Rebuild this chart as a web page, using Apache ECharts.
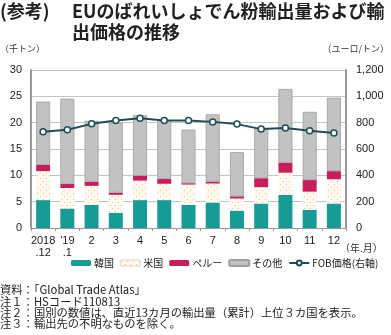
<!DOCTYPE html>
<html><head><meta charset="utf-8">
<script src="https://cdn.jsdelivr.net/npm/echarts@6/dist/echarts.min.js"></script>
<style>html,body{margin:0;padding:0;background:#fff;}#c{width:391px;height:335px;}</style>
</head><body><div id="c"></div>
<script>
var categories = ['2018\n.12', "'19\n.1", '2', '3', '4', '5', '6', '7', '8', '9', '10', '11', '12'];
var korea = [5.3, 3.7, 4.4, 2.9, 5.3, 5.3, 4.4, 4.85, 3.3, 4.65, 6.3, 3.45, 4.65];
var usa   = [5.5, 3.9, 3.6, 3.4, 3.7, 3.1, 3.85, 3.6, 2.3, 3.1, 4.2, 3.45, 4.6];
var peru  = [1.2, 0.75, 0.8, 0.4, 0.9, 0.9, 0.25, 0.35, 0.4, 1.7, 1.9, 2.2, 1.55];
var other = [12.0, 16.2, 11.55, 13.3, 11.5, 11.1, 10.2, 12.8, 8.4, 9.4, 14.0, 12.95, 13.95];
var fob   = [731, 746, 791, 817, 834, 817, 817, 806, 789, 751, 759, 738, 721];
var leftTicks = [0, 5, 10, 15, 20, 25, 30];
var rightTicks = [0, 200, 400, 600, 800, 1000, 1200];

var FONT = '"Liberation Sans", "Noto Sans CJK JP", sans-serif';
var JP = '"Noto Sans CJK JP", sans-serif';

// dotted pattern for USA
var pc = document.createElement('canvas');
pc.width = 6; pc.height = 6;
var g = pc.getContext('2d');
g.fillStyle = '#fff9ef'; g.fillRect(0,0,6,6);
g.fillStyle = '#e8c08a';
g.fillRect(1,1,1,1); g.fillRect(4,4,1,1);
var usPattern = {image: pc, repeat: 'repeat'};

var chart = echarts.init(document.getElementById('c'), null, {renderer: 'canvas'});
var barW = 14;
chart.setOption({
  animation: false,
  textStyle: {fontFamily: FONT},
  grid: {left: 31, right: 45, top: 70, bottom: 107, containLabel: false},
  legend: {
    bottom: 62, left: 66, itemWidth: 20, itemHeight: 6, itemGap: 6,
    textStyle: {fontSize: 10, color: '#222', fontFamily: JP, padding: [0,0,0,-2]},
    data: [
      {name: '韓国'}, {name: '米国', itemStyle: {borderColor: '#aaa', borderWidth: 0.5}},
      {name: 'ペルー'}, {name: 'その他'}, {name: 'FOB価格(右軸)'}
    ]
  },
  xAxis: {
    type: 'category', data: categories,
    axisLine: {lineStyle: {color: '#999', width: 1}},
    axisTick: {show: true, length: 3, lineStyle: {color: '#999'}},
    axisLabel: {interval: 0, fontSize: 11, color: '#222', lineHeight: 12, margin: 7, fontFamily: FONT}
  },
  yAxis: [
    {type: 'value', min: 0, max: 30, interval: 5,
     axisLine: {show: true, lineStyle: {color: '#999', width: 2}},
     axisTick: {show: false},
     splitLine: {lineStyle: {color: '#c4c4c4', width: 1}},
     axisLabel: {fontSize: 11, color: '#222', margin: 9,
       formatter: function(v){ return leftTicks.indexOf(v) >= 0 ? String(v) : ''; }}},
    {type: 'value', min: 0, max: 1200, interval: 200,
     axisLine: {show: true, lineStyle: {color: '#999', width: 2}},
     axisTick: {show: false},
     splitLine: {show: false},
     axisLabel: {fontSize: 11, color: '#222', margin: 10,
       formatter: function(v){ return rightTicks.indexOf(v) >= 0 ? v.toLocaleString('en-US') : ''; }}}
  ],
  series: [
    {name: '韓国', type: 'bar', stack: 's', data: korea, barWidth: barW, itemStyle: {color: '#179b97'}},
    {name: '米国', type: 'bar', stack: 's', data: usa, barWidth: barW, itemStyle: {color: usPattern}},
    {name: 'ペルー', type: 'bar', stack: 's', data: peru, barWidth: barW, itemStyle: {color: '#c81c5b'}},
    {name: 'その他', type: 'bar', stack: 's', data: other, barWidth: barW, itemStyle: {color: '#c2c2c2', borderColor: '#9e9e9e', borderWidth: 0.8}},
    {name: 'FOB価格(右軸)', type: 'line', yAxisIndex: 1, data: fob, symbol: 'circle', symbolSize: 6,
     lineStyle: {color: '#1f4d57', width: 2}, itemStyle: {color: '#fff', borderColor: '#1f4d57', borderWidth: 1.5}, z: 5}
  ],
  graphic: [
    {type: 'text', left: 0, top: 2, style: {text: '(参考)', font: 'bold 18px ' + JP, fill: '#222'}},
    {type: 'text', left: 72, top: 2, style: {text: 'EUのばれいしょでん粉輸出量および輸', font: 'bold 18px ' + JP, fill: '#222'}},
    {type: 'text', left: 72, top: 23, style: {text: '出価格の推移', font: 'bold 18px ' + JP, fill: '#222'}},
    {type: 'text', left: 0, top: 44, style: {text: '（千トン）', font: '9px ' + JP, fill: '#333'}},
    {type: 'text', right: 2, top: 44, style: {text: '（ユーロ/トン）', font: '9px ' + JP, fill: '#333'}},
    {type: 'text', left: 340, top: 243, style: {text: '（年.月）', font: '10px ' + JP, fill: '#333'}},
    {type: 'text', left: 0, top: 284, style: {text: '資料：「Global Trade Atlas」', font: '11.3px ' + JP, fill: '#222'}},
    {type: 'text', left: 0, top: 296, style: {text: '注１：HSコード110813', font: '11.3px ' + JP, fill: '#222'}},
    {type: 'text', left: 0, top: 307, style: {text: '注２：国別の数値は、直近13カ月の輸出量（累計）上位３カ国を表示。', font: '11.3px ' + JP, fill: '#222'}},
    {type: 'text', left: 0, top: 318, style: {text: '注３：輸出先の不明なものを除く。', font: '11.3px ' + JP, fill: '#222'}}
  ]
});
</script></body></html>
